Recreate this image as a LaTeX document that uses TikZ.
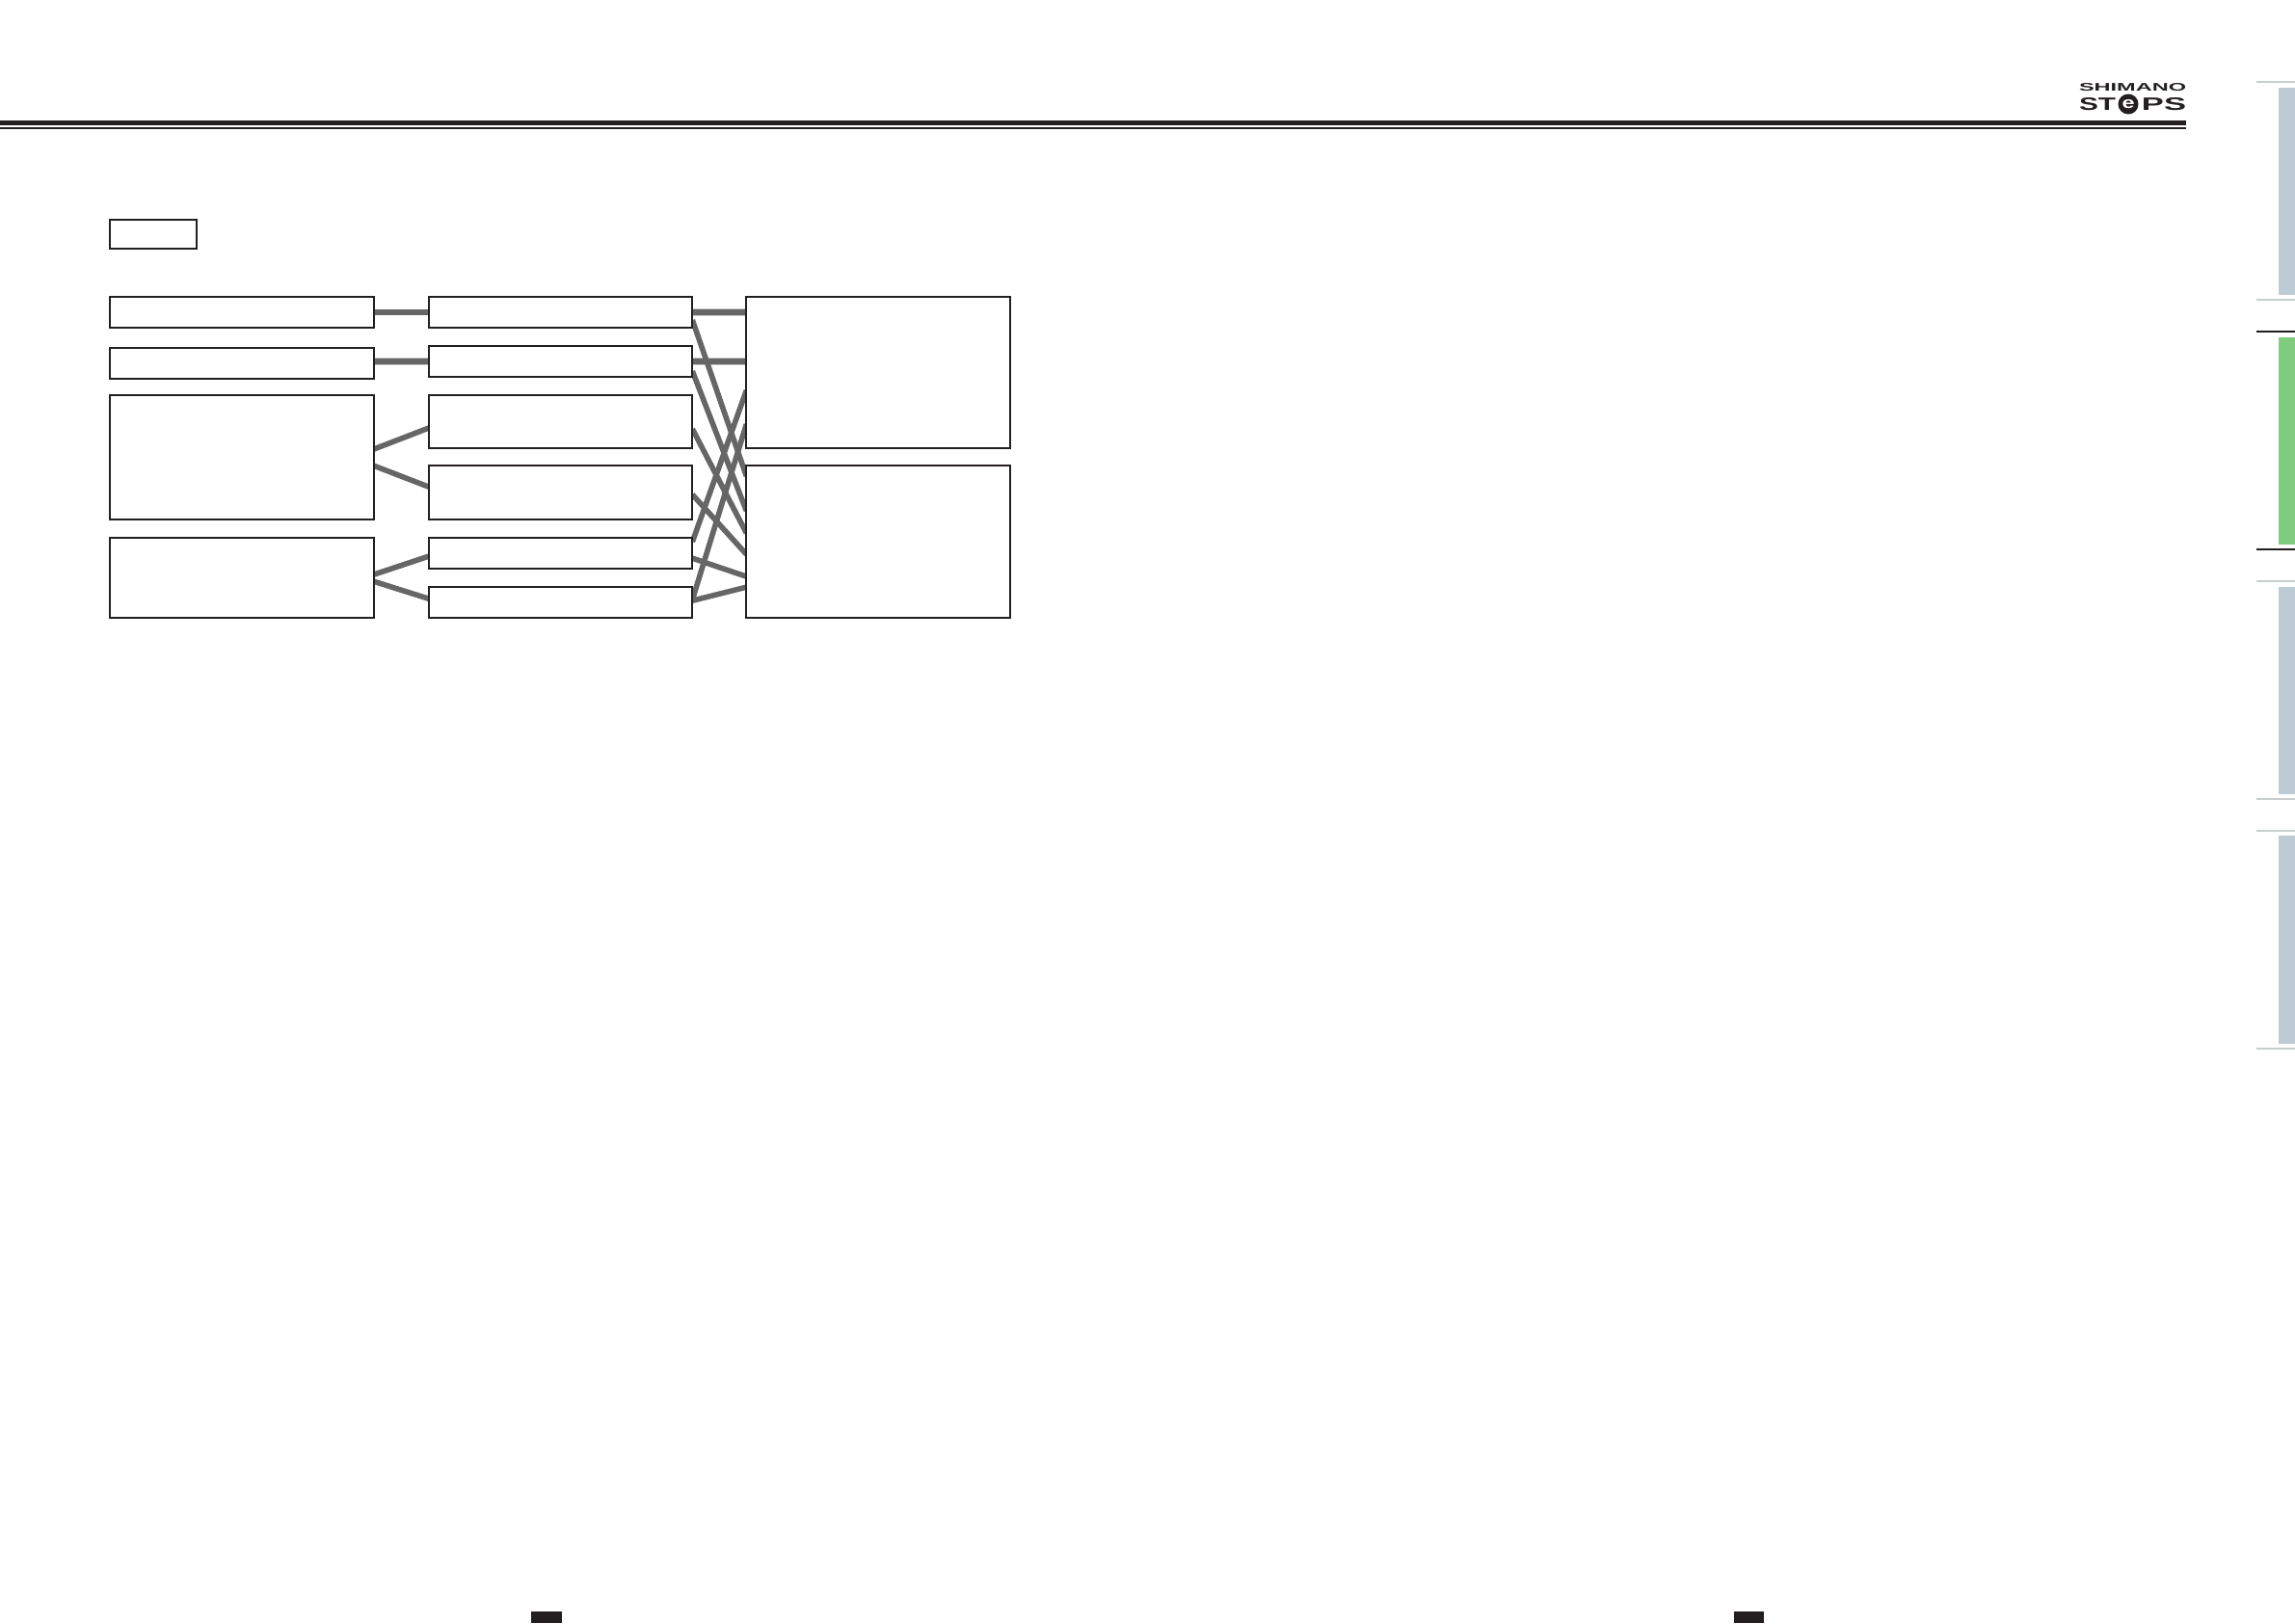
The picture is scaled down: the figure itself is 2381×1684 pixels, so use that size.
\documentclass[tikz,border=0pt]{standalone}
\usepackage{amsmath,amssymb}
\usepackage{fontspec}
\setmainfont{Liberation Sans}
\usepackage{tikz}
\usetikzlibrary{positioning,backgrounds}
\usepackage{xcolor}
\definecolor{inkblack}{RGB}{35,31,32}
\definecolor{wiregray}{RGB}{102,102,102}
\definecolor{tabgray}{RGB}{189,204,212}
\definecolor{tabgreen}{RGB}{128,204,126}
\definecolor{tickgray}{RGB}{200,205,205}
\tikzset{
  panel/.style={rectangle, draw=inkblack, line width=0.6pt, fill=white, outer sep=0pt, inner sep=0pt,
                minimum width=2.735cm, minimum height=0.32cm},
  legendbox/.style={panel, line width=0.35pt, minimum width=0.9cm, minimum height=0.3cm},
  wire/.style={wiregray, line width=1.6pt},
  wirethick/.style={wire, line width=1.9pt},
  tab/.style={tabgray},
  logotext/.style={inner sep=0pt, outer sep=0pt, text=inkblack, font=\bfseries},
}

\begin{document}
\begin{tikzpicture}[x=0.01cm,y=-0.01cm]
\useasboundingbox (0,0) rectangle (2381,1684);
% Header rule
\fill[inkblack] (0,125) rectangle (2268,130);
\fill[inkblack] (0,132) rectangle (2268,133.5);

% Logo
\node[logotext, anchor=north west] (shimano) at (2157,86) {\resizebox{1.11cm}{0.08cm}{SHIMANO}};
\node[logotext, anchor=north west] (st) at (2157,101) {\resizebox{0.38cm}{0.13cm}{ST}};
\node[circle, fill=inkblack, inner sep=0pt, minimum size=0.21cm] (eball) at (2208,108) {};
\node[logotext, text=white] at (eball) {\resizebox{0.13cm}{0.09cm}{e}};
\node[logotext, anchor=north east] (ps) at (2268,101) {\resizebox{0.46cm}{0.13cm}{PS}};

% Side tabs
\fill[tab] (2364,91) rectangle (2381,306);
\fill[tabgreen] (2364,350) rectangle (2381,565);
\fill[tab] (2364,609) rectangle (2381,824);
\fill[tab] (2364,867) rectangle (2381,1083);
\foreach \ty in {85,311,603,829,862,1088}
  \draw[tickgray, line width=0.4pt] (2341,\ty) -- (2381,\ty);
\foreach \ty in {344,570}
  \draw[inkblack, line width=0.4pt] (2341,\ty) -- (2381,\ty);

% Page tabs
\fill[inkblack] (551,1672) rectangle (583,1684);
\fill[inkblack] (1799,1672) rectangle (1830,1684);

% Legend
\node[legendbox, anchor=north west] (legend) at (114,228) {};

% Left column
\node[panel, anchor=north west] (lone) at (114,308) {};
\node[panel, below=0.21cm of lone] (ltwo) {};
\node[panel, below=0.17cm of ltwo, minimum height=1.29cm] (lthree) {};
\node[panel, below=0.19cm of lthree, minimum height=0.83cm] (lfour) {};

% Middle column
\node[panel, right=0.57cm of lone] (mone) {};
\node[panel, below=0.19cm of mone] (mtwo) {};
\node[panel, below=0.19cm of mtwo, minimum height=0.55cm] (mthree) {};
\node[panel, below=0.18cm of mthree, minimum height=0.56cm] (mfour) {};
\node[panel, below=0.19cm of mfour] (mfive) {};
\node[panel, below=0.19cm of mfive] (msix) {};

% Right column
\node[panel, below right=0cm and 0.56cm of mone.north east, minimum height=1.57cm] (rone) {};
\node[panel, below=0.18cm of rone, minimum height=1.58cm] (rtwo) {};

\begin{scope}[on background layer]
% Left to middle
\draw[wirethick] (lone) -- (mone);
\draw[wirethick] ([yshift=0.2mm]ltwo.east) -- (mtwo.west);
\draw[wire] ([yshift=0.85mm]lthree.east) -- ([yshift=-0.65mm]mthree.west);
\draw[wire] ([yshift=-0.85mm]lthree.east) -- ([yshift=0.6mm]mfour.west);
\draw[wire] ([yshift=0.35mm]lfour.east) -- ([yshift=-0.3mm]mfive.west);
\draw[wire] ([yshift=-0.35mm]lfour.east) -- ([yshift=0.4mm]msix.west);

% Middle to right
\draw[wirethick] (mone.east) -- ([yshift=6.25mm]rone.west);
\draw[wirethick] (mtwo.east) -- ([yshift=1.15mm]rone.west);
\draw[wire] ([yshift=1.2mm]mfive.east) -- ([yshift=-1.85mm]rone.west);
\draw[wire] ([yshift=0.3mm]msix.east) -- ([yshift=-5.35mm]rone.west);
\draw[wire] ([yshift=-0.8mm]mone.east) -- ([yshift=6.8mm]rtwo.west);
\draw[wire] ([yshift=-1mm]mtwo.east) -- ([yshift=3.2mm]rtwo.west);
\draw[wire] ([yshift=-0.75mm]mthree.east) -- ([yshift=0.9mm]rtwo.west);
\draw[wire] ([yshift=-0.2mm]mfour.east) -- ([yshift=-1.3mm]rtwo.west);
\draw[wire] ([yshift=-0.5mm]mfive.east) -- ([yshift=-3.6mm]rtwo.west);
\draw[wire] ([yshift=0.2mm]msix.east) -- ([yshift=-4.7mm]rtwo.west);
\end{scope}
\end{tikzpicture}
\end{document}
